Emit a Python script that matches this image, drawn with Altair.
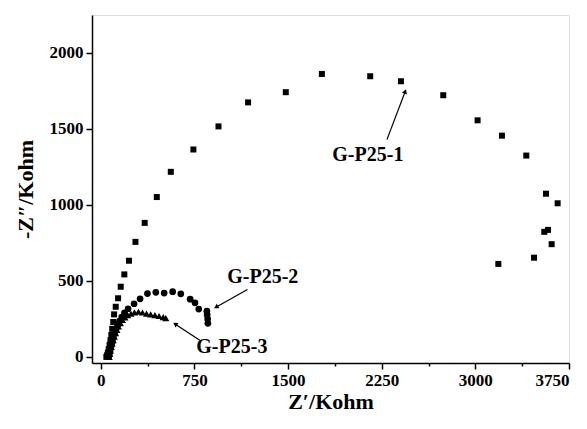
import math
import altair as alt
import pandas as pd

# ---- data ----
s1_x = [45, 50, 57, 64, 71, 78, 85, 92, 100, 107, 120, 139, 160, 189, 226, 278, 352, 449, 561, 742,
        943, 1180, 1482, 1771, 2158, 2404, 2743, 3018, 3213, 3408, 3566, 3659, 3552, 3582, 3611, 3470, 3184]
s1_y = [0, 10, 28, 52, 80, 110, 145, 185, 230, 280, 330, 386, 462, 543, 633, 757, 882, 1052, 1218, 1365,
        1517, 1675, 1742, 1862, 1847, 1814, 1722, 1557, 1456, 1325, 1074, 1011, 823, 836, 742, 653, 612]

s2_x = [65, 70, 76, 83, 91, 100, 110, 122, 135, 150, 168, 190, 219, 267, 315, 374, 441, 508, 576, 641,
        716, 755, 785, 850, 852, 856, 858]
s2_y = [5, 22, 45, 70, 96, 124, 152, 180, 208, 235, 262, 290, 317, 350, 382, 417, 425, 420, 429, 415,
        380, 356, 315, 301, 278, 250, 221]

s3_x = [68, 72, 78, 85, 92, 100, 109, 119, 130, 142, 157, 174, 194, 216, 242, 270, 302, 334, 367, 400,
        434, 467, 500, 521]
s3_y = [0, 20, 42, 65, 88, 110, 133, 156, 178, 200, 222, 243, 260, 275, 285, 293, 297, 292, 285, 280,
        275, 269, 262, 255]

labels = ["G-P25-1", "G-P25-2", "G-P25-3"]
label_x = [2139, 1298, 1050]
label_y = [1327, 528, 64]
arrow_x0 = [2292, 1175, 793]
arrow_y0 = [1430, 443, 109]
arrow_x1 = [2436, 929, 601]
arrow_y1 = [1742, 330, 214]

X_DOM = [-70, 3750]
Y_DOM = [-40, 2250]
W, H = 477, 348

FONT = "Liberation Serif"

xs = alt.Scale(domain=X_DOM, nice=False, zero=False)
ys = alt.Scale(domain=Y_DOM, nice=False, zero=False)

df1 = pd.DataFrame({"x": s1_x, "y": s1_y})
df2 = pd.DataFrame({"x": s2_x, "y": s2_y})
df3 = pd.DataFrame({"x": s3_x, "y": s3_y})

sx = W / (X_DOM[1] - X_DOM[0])
sy = H / (Y_DOM[1] - Y_DOM[0])
angles = []
for a, b, c, d in zip(arrow_x0, arrow_y0, arrow_x1, arrow_y1):
    dxp = (c - a) * sx
    dyp = -(d - b) * sy
    angles.append(math.degrees(math.atan2(dxp, -dyp)) % 360)

dfa = pd.DataFrame({"x0": arrow_x0, "y0": arrow_y0, "x1": arrow_x1, "y1": arrow_y1, "ang": angles})
dft = pd.DataFrame({"label": labels, "x": label_x, "y": label_y})

x_vals = [i * 375 for i in range(11)]
y_vals = [i * 250 for i in range(10)]

x_axis = alt.Axis(
    values=x_vals, title="Z′/Kohm", format="d",
    labelExpr="datum.value % 750 === 0 ? datum.label : ''",
    tickSize={"condition": {"test": "datum.value % 750 === 0", "value": 6}, "value": 3},
    grid=False, domainColor="black", tickColor="black", domainWidth=1.5, tickWidth=1.5,
    labelFont=FONT, labelFontSize=17, labelFontWeight="bold", labelColor="black", labelPadding=3,
    titleFont=FONT, titleFontSize=22, titleFontWeight="bold", titleColor="black", titlePadding=3,
)
y_axis = alt.Axis(
    values=y_vals, title="-Z″/Kohm", format="d",
    labelExpr="datum.value % 500 === 0 ? datum.label : ''",
    tickSize={"condition": {"test": "datum.value % 500 === 0", "value": 6}, "value": 3},
    grid=False, domainColor="black", tickColor="black", domainWidth=1.5, tickWidth=1.5,
    labelFont=FONT, labelFontSize=17, labelFontWeight="bold", labelColor="black", labelPadding=3,
    titleFont=FONT, titleFontSize=22, titleFontWeight="bold", titleColor="black", titlePadding=12,
)

base_x = alt.X("x:Q", scale=xs, axis=x_axis)
base_y = alt.Y("y:Q", scale=ys, axis=y_axis)

p1 = alt.Chart(df1).mark_point(filled=True, shape="square", size=36, color="black", opacity=1).encode(
    x=base_x, y=base_y)
p2 = alt.Chart(df2).mark_point(filled=True, shape="circle", size=45, color="black", opacity=1).encode(
    x=alt.X("x:Q", scale=xs), y=alt.Y("y:Q", scale=ys))
p3 = alt.Chart(df3).mark_point(filled=True, shape="triangle-up", size=50, color="black", opacity=1).encode(
    x=alt.X("x:Q", scale=xs), y=alt.Y("y:Q", scale=ys))

shafts = alt.Chart(dfa).mark_rule(color="black", strokeWidth=1.2).encode(
    x=alt.X("x0:Q", scale=xs), y=alt.Y("y0:Q", scale=ys), x2="x1:Q", y2="y1:Q")
heads = alt.Chart(dfa).mark_point(filled=True, shape="triangle", size=28, color="black", opacity=1).encode(
    x=alt.X("x1:Q", scale=xs), y=alt.Y("y1:Q", scale=ys), angle=alt.Angle("ang:Q", scale=None))

texts = alt.Chart(dft).mark_text(font=FONT, fontSize=20, fontWeight="bold", color="black").encode(
    x=alt.X("x:Q", scale=xs), y=alt.Y("y:Q", scale=ys), text="label:N")

chart = alt.layer(p1, p2, p3, shafts, heads, texts).properties(
    width=W, height=H,
    autosize="none",
    padding={"left": 84, "top": 7, "right": 10, "bottom": 50},
).configure_view(stroke="black", strokeWidth=1.5).configure(background="white")

chart.save("out.html", embed_options={"renderer": "svg", "actions": False})
